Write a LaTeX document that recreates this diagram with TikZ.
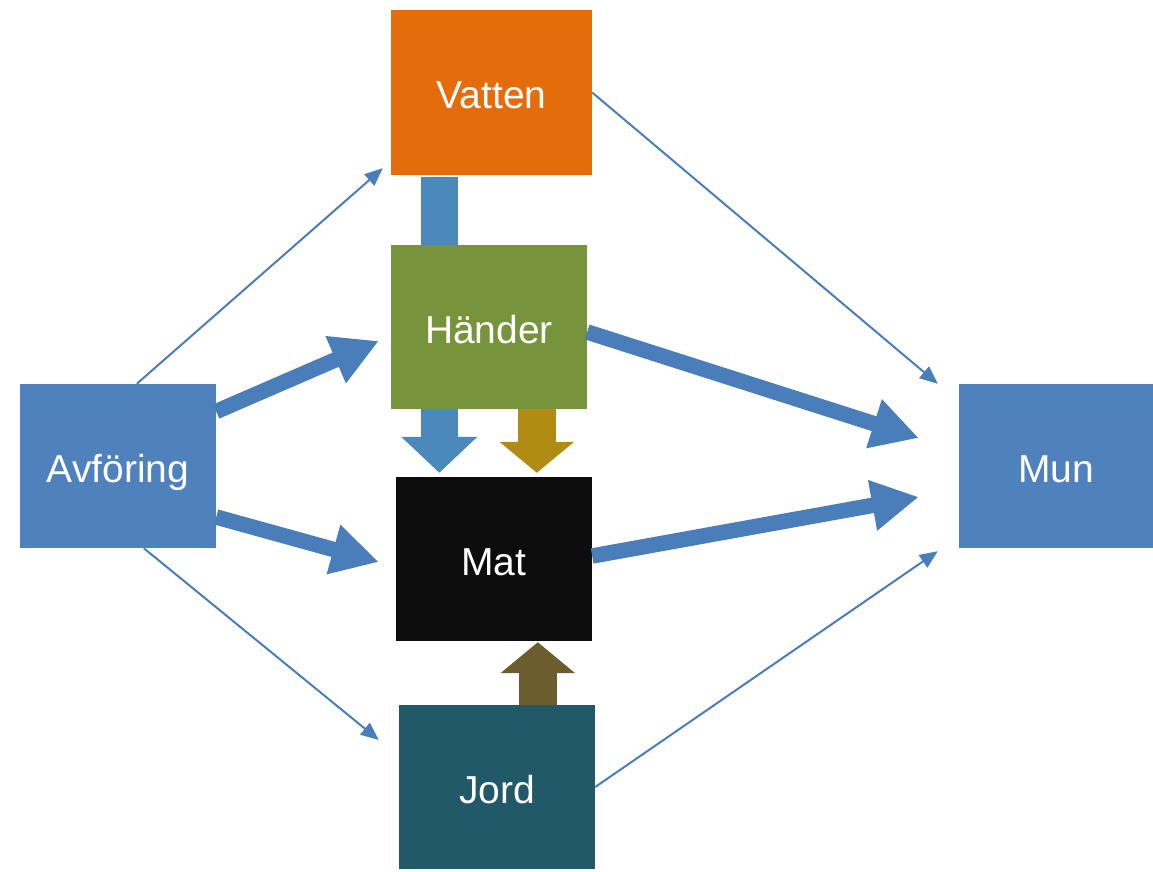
\documentclass[tikz,border=0pt]{standalone}
\usepackage{fontspec}
\newfontfamily\boxfont{Liberation Sans}
\usetikzlibrary{arrows.meta,calc}
\definecolor{cblue}{HTML}{4F81BD}
\definecolor{ablue}{HTML}{4A7EBB}
\definecolor{vblue}{HTML}{4A89BA}
\definecolor{corange}{HTML}{E46C0A}
\definecolor{cgreen}{HTML}{77933C}
\definecolor{cblack}{HTML}{0D0D0D}
\definecolor{cteal}{HTML}{215968}
\definecolor{cgold}{HTML}{B08C14}
\definecolor{cbrown}{HTML}{6B5D2E}
\tikzset{
  box/.style={rectangle, inner sep=0pt, text=white, font=\boxfont\fontsize{39}{47}\selectfont, text height=33pt, text depth=0pt},
  thinarr/.style={draw=ablue, line width=2pt, -{Triangle[length=18pt,width=15pt]}},
  thickarr/.style={draw=ablue, line width=15.5pt, -{Triangle[length=47pt,width=48pt]}},
  blockarr/.style={line width=38pt, -{Triangle[length=31pt,width=73pt]}}
}
\begin{document}
\begin{tikzpicture}[x=1pt,y=-1pt]
\useasboundingbox (0,0) rectangle (1153,872);
\node[box, fill=corange, minimum width=201pt, minimum height=165pt] (vat) at (491.5,92.5) {Vatten};
\node[box, fill=cgreen, minimum width=196pt, minimum height=164pt] (han) at (489,327) {Händer};
\node[box, fill=cblack, minimum width=196pt, minimum height=164pt] (mat) at (494,559) {Mat};
\node[box, fill=cteal, minimum width=196pt, minimum height=164pt] (jor) at (497,787) {Jord};
\node[box, fill=cblue, minimum width=196pt, minimum height=164pt] (avf) at (118,466) {Avföring};
\node[box, fill=cblue, minimum width=194pt, minimum height=164pt] (mun) at (1056,466) {Mun};
% thin arrows
\draw[thinarr] ($(avf.north west)+(117,0)$) -- ($(vat.south west)+(-8,-7)$);
\draw[thinarr] ($(avf.south west)+(124,0)$) -- ($(jor.west)+(-20,-47)$);
\draw[thinarr] (vat.east) -- ($(mun.north west)+(-21,0)$);
\draw[thinarr] (jor.east) -- ($(mun.south west)+(-21,3)$);
% thick arrows
\draw[thickarr] ($(avf.east)+(0,-54.5)$) -- ($(han.west)+(-12,14)$);
\draw[thickarr] ($(avf.east)+(0,51)$) -- ($(mat.west)+(-17,3)$);
\draw[thickarr] ($(han.east)+(0,5)$) -- ($(mun.west)+(-40,-28)$);
\draw[thickarr] ($(mat.east)+(0,-3)$) -- ($(mun.west)+(-40,31)$);
% block arrows
\draw[vblue, line width=37pt] ($(vat.south west)+(48.5,2)$) -- ($(han.north west)+(48.5,0)$);
\draw[vblue, line width=37pt, -{Triangle[length=36pt,width=74pt]}] ($(han.south west)+(48.5,0)$) -- ($(mat.north west)+(43.5,-4)$);
\draw[cgold, blockarr] ($(han.south west)+(146,0)$) -- ($(mat.north west)+(141,-4)$);
\draw[cbrown, blockarr] ($(jor.north west)+(139,0)$) -- ($(mat.south west)+(142,1)$);
\end{tikzpicture}
\end{document}
